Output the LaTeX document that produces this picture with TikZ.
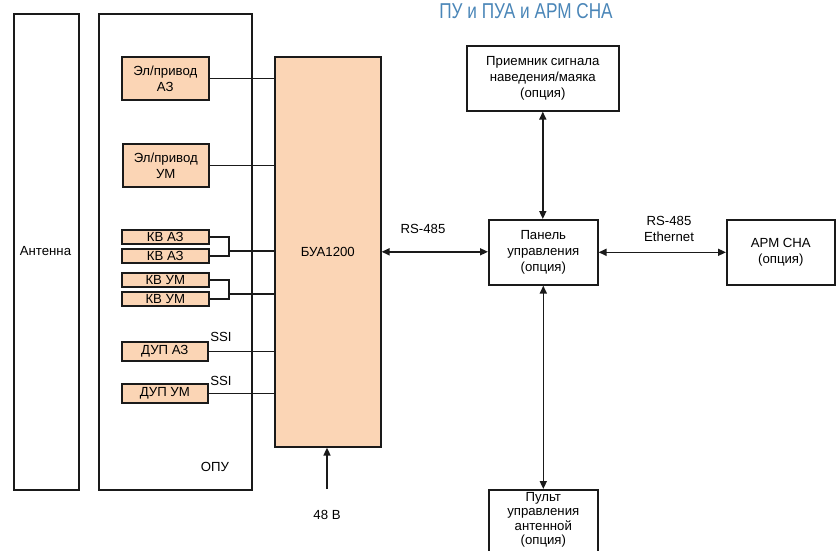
\documentclass[tikz,border=0pt]{standalone}
\usepackage{fontspec}
\setmainfont{Liberation Sans}
\usetikzlibrary{arrows.meta}
\definecolor{peach}{HTML}{FBD5B5}
\definecolor{titleblue}{HTML}{4A86B8}
\definecolor{ink}{HTML}{1A1A1A}
\tikzset{
  box/.style={draw=ink, line width=1.6pt, inner sep=0pt, anchor=north west, align=center,
              font=\fontsize{13.2}{16}\selectfont},
  obox/.style={box, fill=peach},
  wire/.style={draw=ink, line width=1.6pt},
  biarrow/.style={wire, {Triangle[length=8pt,width=7pt]}-{Triangle[length=8pt,width=7pt]}},
  uarrow/.style={wire, -{Triangle[length=8pt,width=7pt]}},
  lbl/.style={font=\fontsize{13.2}{16}\selectfont, align=center, inner sep=0pt}
}
\begin{document}
\begin{tikzpicture}[x=1pt,y=-1pt]
\clip (0,0) rectangle (836,550);
\fill[white] (0,0) rectangle (836,550);
% title
\node[lbl, text=titleblue, font=\fontsize{21.5}{24}\selectfont, xscale=0.8] (title) at (526,11) {ПУ и ПУА и АРМ СНА};
% big frames
\node[box, minimum width=65pt, minimum height=476pt] (ant) at (13,13) {};
\node[lbl] (antl) at (45.5,251) {Антенна};
\node[box, minimum width=153pt, minimum height=476pt] (opu) at (98,13) {};
\node[lbl] (opul) at (215,467) {ОПУ};
% orange units
\node[obox, minimum width=87pt, minimum height=43pt] (ep1) at (121,56) {Эл/привод\\АЗ};
\node[obox, minimum width=86pt, minimum height=43pt] (ep2) at (122,143) {Эл/привод\\УМ};
\node[obox, minimum width=87pt, minimum height=14pt] (kv1) at (121,229) {КВ АЗ};
\node[obox, minimum width=87pt, minimum height=14pt] (kv2) at (121,248) {КВ АЗ};
\node[obox, minimum width=87pt, minimum height=14pt] (kv3) at (121,272) {КВ УМ};
\node[obox, minimum width=87pt, minimum height=14pt] (kv4) at (121,291) {КВ УМ};
\node[obox, minimum width=86pt, minimum height=19pt] (dup1) at (121,341) {ДУП АЗ};
\node[obox, minimum width=86pt, minimum height=19pt] (dup2) at (121,383) {ДУП УМ};
\node[obox, minimum width=106pt, minimum height=390pt] (bua) at (274,56) {БУА1200};
% right side boxes
\node[box, minimum width=152pt, minimum height=65pt] (recv) at (466,45) {Приемник сигнала\\наведения/маяка\\(опция)};
\node[box, minimum width=109pt, minimum height=65pt] (panel) at (488,219) {Панель\\управления\\(опция)};
\node[box, minimum width=108pt, minimum height=65pt] (arm) at (726,219) {АРМ СНА\\(опция)};
\node[box, minimum width=109pt, minimum height=80pt] (pult) at (488,489) {};
\node[lbl, anchor=north, font=\fontsize{13.2}{14.5}\selectfont] (pultl) at ([yshift=-3pt]pult.north) {Пульт\\управления\\антенной\\(опция)};
% connections into BUA
\draw[wire] (ep1.east) -- (ep1.east -| bua.west);
\draw[wire] (ep2.east) -- (ep2.east -| bua.west);
\coordinate (jA) at (229,251);
\coordinate (jU) at (229,294);
\draw[wire] (kv1.east) -| (jA) |- (kv2.east);
\draw[wire] (jA) -- (jA -| bua.west);
\draw[wire] (kv3.east) -| (jU) |- (kv4.east);
\draw[wire] (jU) -- (jU -| bua.west);
\draw[wire] (dup1.east) -- (dup1.east -| bua.west);
\draw[wire] (dup2.east) -- (dup2.east -| bua.west);
\node[lbl] (ssi1) at (221,337) {SSI};
\node[lbl] (ssi2) at (221,381) {SSI};
% power
\coordinate (p48) at (327,489);
\draw[uarrow] (p48) -- (p48 |- bua.south);
\node[lbl] (v48) at (327,515) {48 В};
% interfaces
\draw[biarrow] (bua.east) -- (bua.east -| panel.west);
\node[lbl] (rs1) at (423,229) {RS-485};
\draw[biarrow] (panel.east) -- (arm.west);
\node[lbl] (rs2) at (669,229) {RS-485\\Ethernet};
\draw[biarrow] (recv.south) -- (recv.south |- panel.north);
\draw[biarrow] (panel.south) -- (panel.south |- pult.north);
\end{tikzpicture}
\end{document}
